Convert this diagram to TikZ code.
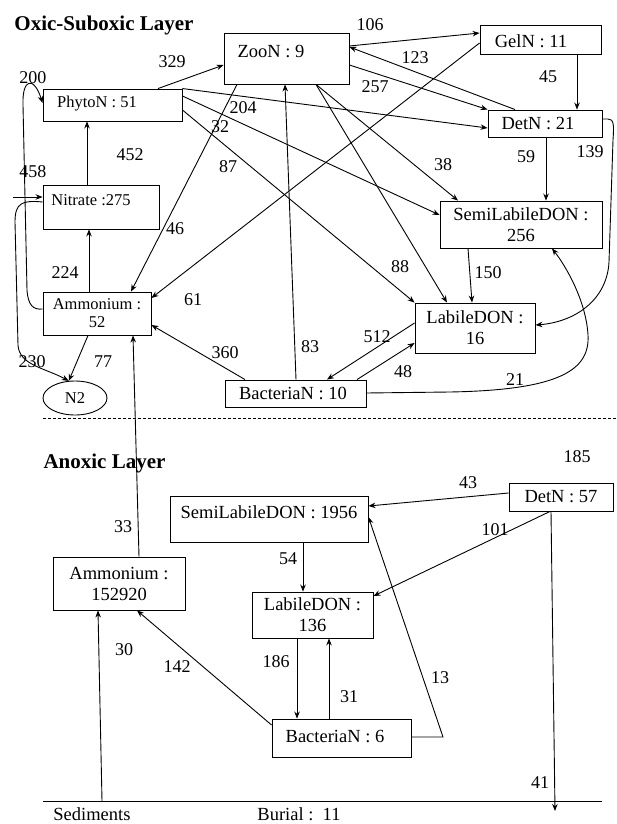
\documentclass[tikz,border=0pt]{standalone}
\usepackage{fontspec}
\setmainfont{Liberation Serif}
\usetikzlibrary{arrows.meta,shapes.geometric}
\begin{document}
\begin{tikzpicture}[x=1pt,y=-1pt,
  box/.style={draw, line width=0.9pt, inner sep=0pt},
  arr/.style={line width=0.9pt, -{Stealth[length=7pt,width=5.5pt]}},
  ln/.style={line width=0.9pt},
  lbl/.style={inner sep=0pt, font=\fontsize{18}{20}\selectfont},
  txt/.style={inner sep=0pt, font=\fontsize{18.5}{21}\selectfont, align=center},
  stxt/.style={inner sep=0pt, font=\fontsize{16.5}{18}\selectfont, align=center},
  ttl/.style={inner sep=0pt, font=\fontsize{21}{24}\selectfont\bfseries}]
\useasboundingbox[fill=white] (0,0) rectangle (616,824);

% titles
\node[ttl] (t1) at (104,25) {Oxic-Suboxic Layer};
\node[ttl] (t2) at (104.5,463) {Anoxic Layer};

% oxic boxes
\node[box, minimum width=125pt, minimum height=51pt, label={[txt,xshift=-15.5pt,yshift=6.5pt]center:ZooN : 9}] (zoo) at (286.5,58.5) {};
\node[box, minimum width=121pt, minimum height=29pt, label={[txt,xshift=-9.5pt,yshift=-1.5pt]center:GelN : 11}] (gel) at (540.5,39.5) {};
\node[box, minimum width=139pt, minimum height=32pt, label={[stxt,xshift=-15.5pt,yshift=1pt]center:PhytoN : 51}] (phy) at (112.5,105) {};
\node[box, minimum width=114pt, minimum height=27pt, label={[txt,xshift=-7pt,yshift=-0.5pt]center:DetN : 21}] (det) at (545,123.5) {};
\node[box, minimum width=116pt, minimum height=44pt, label={[stxt,xshift=-10pt,yshift=7pt]center:Nitrate :275}] (nit) at (101,207) {};
\node[box, txt, minimum width=162pt, minimum height=47pt] (sld) at (521,224.5) {SemiLabileDON :\\256};
\node[box, stxt, minimum width=108pt, minimum height=43pt] (amm) at (97,313.5) {Ammonium :\\52};
\node[box, txt, minimum width=120pt, minimum height=50pt] (ld) at (475,328) {LabileDON :\\16};
\node[box, minimum width=141pt, minimum height=27pt, label={[txt,xshift=-2.5pt]center:BacteriaN : 10}] (bac) at (295.5,393.5) {};
\node[draw, line width=0.9pt, ellipse, inner sep=0pt, minimum width=64pt, minimum height=34pt, stxt] (n2) at (75,398) {N2};

% anoxic boxes
\node[box, minimum width=198pt, minimum height=46pt, label={[txt,yshift=7pt]center:SemiLabileDON : 1956}] (sld2) at (269,519) {};
\node[box, txt, minimum width=104pt, minimum height=28pt] (det2) at (561,497) {DetN : 57};
\node[box, txt, minimum width=132pt, minimum height=53pt] (amm2) at (119,583.5) {Ammonium :\\152920};
\node[box, txt, minimum width=121pt, minimum height=46pt] (ld2) at (312.5,615) {LabileDON :\\136};
\node[box, minimum width=139pt, minimum height=38pt, label={[txt,xshift=-6.5pt,yshift=2pt]center:BacteriaN : 6}] (bac2) at (341.5,738) {};

% free ends
\coordinate (src458) at (13,197);
\coordinate (dL) at (43,418);
\coordinate (dR) at (616,418);
\coordinate (sedL) at (43,801);
\coordinate (sedR) at (602,801);
\coordinate (sed30) at (102,801);
\coordinate (bur41) at (555,811);

% separators
\draw[line width=0.8pt, dash pattern=on 3pt off 2pt] (dL) -- (dR);
\draw[ln] (sedL) -- (sedR);

% oxic connectors
\draw[arr] (phy.north -| 158,0) -- (zoo.west |- 0,65);
\draw[arr] (amm.west |- 0,309) .. controls (33,310) and (28,305) .. (27,290) -- (23,105) .. controls (22,78) and (34,76) .. (phy.west |- 0,103);
\draw[arr] (nit.west |- 0,202) .. controls (22,200) and (15,203) .. (15,222) -- (18,345) .. controls (19,365) and (45,368) .. (n2.110);
\draw[arr] (src458) -- (nit.west |- 0,197);
\draw[arr] (nit.north -| 87,0) -- (phy.south -| 87,0);
\draw[arr] (amm.north -| 89,0) -- (nit.south -| 89,0);
\draw[arr] (amm.south -| 88,0) -- (n2.110);
\draw[arr] (zoo.south -| 237,0) -- (amm.north -| 131,0);
\draw[arr] (gel.west |- 0,43) -- (amm.east |- 0,298);
\draw[arr] (bac.north -| 245,0) -- (amm.east |- 0,325);
\draw[arr] (bac.north -| 296,0) -- (zoo.south -| 285,0);
\draw[arr] (phy.north east) -- (det.west |- 0,128);
\draw[arr] (phy.east |- 0,96) -- (sld.west |- 0,215);
\draw[arr] (phy.east |- 0,110) -- (ld.north west);
\draw[arr] (zoo.east |- 0,46) -- (gel.west |- 0,33);
\draw[arr] (det.north -| 515,0) -- (zoo.east |- 0,47);
\draw[arr] (zoo.east |- 0,65) -- (det.north west);
\draw[arr] (gel.south -| 577,0) -- (det.north -| 577,0);
\draw[arr] (det.south -| 546,0) -- (sld.north -| 546,0);
\draw[arr] (det.east |- 0,119) -- (608,119) .. controls (614,119) and (614,125) .. (613,140) -- (609,262) .. controls (607,300) and (575,322) .. (ld.east |- 0,325);
\draw[arr] (zoo.south -| 316,0) -- (sld.north -| 458,0);
\draw[arr] (zoo.south -| 316,0) -- (ld.north -| 447,0);
\draw[arr] (sld.south -| 468,0) -- (ld.north -| 472,0);
\draw[arr] (ld.west |- 0,323) -- (bac.north -| 327,0);
\draw[arr] (bac.north -| 357,0) -- (ld.west |- 0,343);
\draw[arr] (bac.east |- 0,393) -- (450,392) .. controls (560,390) and (590,370) .. (588,335) .. controls (586,300) and (565,265) .. (sld.south -| 552,0);

% anoxic connectors
\draw[arr] (amm2.north -| 139,0) -- (amm.south -| 133,0);
\draw[arr] (det2.west |- 0,493) -- (sld2.east |- 0,506);
\draw[arr] (det2.south -| 550,0) -- (ld2.east |- 0,596);
\draw[arr] (sld2.south -| 303,0) -- (ld2.north -| 303,0);
\draw[arr] (ld2.south -| 297,0) -- (bac2.north -| 297,0);
\draw[arr] (bac2.north -| 329,0) -- (ld2.south -| 329,0);
\draw[arr] (bac2.west |- 0,725) -- (amm2.south -| 137,0);
\draw[arr] (bac2.east |- 0,737) -- (443,737) -- (sld2.east |- 0,517);
\draw[arr] (sed30) -- (amm2.south -| 98,0);
\draw[arr] (det2.south -| 551,0) -- (bur41);

% flux labels
\node[lbl] (l329) at (172,62) {329};
\node[lbl] (l200) at (33,78) {200};
\node[lbl] (l458) at (33,172) {458};
\node[lbl] (l452) at (130,155) {452};
\node[lbl] (l224) at (65,273) {224};
\node[lbl] (l230) at (32,362) {230};
\node[lbl] (l77) at (103,362) {77};
\node[lbl] (l46) at (175,229) {46};
\node[lbl] (l61) at (193,300) {61};
\node[lbl] (l360) at (225,353) {360};
\node[lbl] (l83) at (310,347) {83};
\node[lbl] (l204) at (243,108) {204};
\node[lbl] (l32) at (220,127) {32};
\node[lbl] (l87) at (228,167) {87};
\node[lbl] (l106) at (370,25) {106};
\node[lbl] (l123) at (415,58) {123};
\node[lbl] (l257) at (375,87) {257};
\node[lbl] (l45) at (548,77) {45};
\node[lbl] (l59) at (526,157) {59};
\node[lbl] (l139) at (590,152) {139};
\node[lbl] (l38) at (443,165) {38};
\node[lbl] (l88) at (400,267) {88};
\node[lbl] (l150) at (488,273) {150};
\node[lbl] (l512) at (377,337) {512};
\node[lbl] (l48) at (403,372) {48};
\node[lbl] (l21) at (515,380) {21};
\node[lbl] (l33) at (123,527) {33};
\node[lbl] (l43) at (468,483) {43};
\node[lbl] (l101) at (495,530) {101};
\node[lbl] (l185) at (577,457) {185};
\node[lbl] (l54) at (288,559) {54};
\node[lbl] (l186) at (276,662) {186};
\node[lbl] (l31) at (349,697) {31};
\node[lbl] (l142) at (177,667) {142};
\node[lbl] (l13) at (440,678) {13};
\node[lbl] (l30) at (124,650) {30};
\node[lbl] (l41) at (540,783) {41};
\node[txt] (sedtxt) at (92,814.5) {Sediments};
\node[txt] (burtxt) at (299,814.5) {Burial :\ \ 11};
\end{tikzpicture}
\end{document}
